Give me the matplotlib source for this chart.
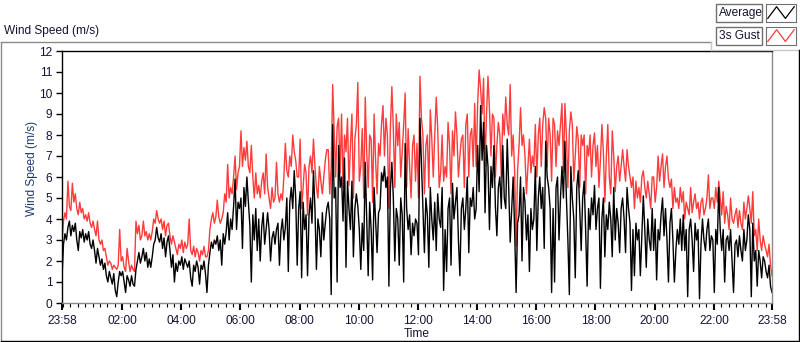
import numpy as np
import matplotlib.pyplot as plt
from matplotlib.patches import Rectangle
from matplotlib.lines import Line2D

# ----- data: 3-minute samples from 23:58 to 23:58 (one row per hour) -----
step_min = 3
avg_speed = [
    1.2, 2.8, 3.3, 3.0, 3.6, 3.9, 3.2, 3.7, 3.4, 3.8, 3.0, 2.5, 3.4, 3.1, 3.5, 2.9, 3.3, 3.0, 3.4, 2.8,
    2.6, 3.0, 2.5, 1.9, 2.6, 2.2, 1.8, 2.1, 1.6, 1.9, 1.3, 1.0, 1.5, 1.2, 0.9, 1.4, 0.6, 0.3, 1.0, 1.5,
    1.3, 1.5, 1.0, 0.5, 1.3, 1.1, 0.8, 1.3, 0.9, 0.8, 1.6, 2.0, 2.4, 1.9, 2.2, 2.6, 2.0, 2.4, 1.7, 2.1,
    1.7, 2.2, 2.8, 3.0, 3.6, 3.1, 2.9, 3.3, 2.6, 3.1, 2.2, 2.9, 3.2, 2.5, 1.7, 2.3, 1.0, 1.9, 1.5, 2.0,
    1.8, 2.2, 1.6, 2.1, 1.9, 1.7, 2.0, 1.2, 0.8, 1.8, 1.5, 2.0, 1.7, 0.9, 1.8, 1.6, 2.0, 1.4, 0.5, 1.8,
    2.4, 2.9, 2.6, 3.0, 2.8, 3.2, 2.5, 3.0, 1.8, 3.3, 2.8, 3.4, 4.3, 3.0, 4.0, 3.5, 4.6, 5.9, 3.5, 4.8,
    4.5, 5.0, 2.6, 5.5, 4.6, 6.0, 4.8, 3.7, 1.0, 4.2, 3.0, 4.5, 2.5, 4.0, 2.0, 3.6, 4.3, 2.8, 3.5, 4.3,
    3.5, 2.0, 3.1, 3.4, 2.8, 3.5, 3.8, 1.8, 3.4, 4.0, 3.0, 3.6, 5.0, 1.5, 4.8, 5.5, 4.5, 6.3, 5.0, 1.8,
    4.5, 5.3, 1.2, 4.8, 3.5, 4.2, 1.3, 4.2, 5.0, 3.8, 6.3, 4.5, 1.6, 4.0, 3.5, 2.2, 4.3, 3.0, 3.8, 4.5,
    4.8, 4.0, 0.4, 8.5, 5.0, 5.5, 1.0, 7.5, 5.5, 6.0, 3.9, 6.9, 1.7, 5.8, 4.5, 3.5, 5.8, 2.2, 4.5, 5.2,
    4.6, 3.5, 1.6, 3.8, 2.5, 6.7, 4.0, 1.3, 4.8, 3.5, 1.1, 5.5, 4.0, 2.4, 4.3, 4.5, 6.2, 5.8, 6.5, 5.5,
    6.0, 0.8, 5.4, 6.7, 5.0, 2.0, 4.5, 4.0, 1.8, 5.0, 4.2, 1.0, 7.6, 4.5, 3.5, 4.2, 2.3, 3.8, 3.2, 4.0,
    3.8, 2.3, 8.8, 6.7, 4.5, 2.4, 5.0, 4.2, 1.7, 5.5, 4.0, 3.0, 4.8, 2.5, 5.2, 4.0, 3.6, 5.5, 0.6, 3.5,
    1.5, 4.5, 5.0, 1.8, 5.7, 4.0, 4.8, 5.5, 3.0, 1.3, 4.5, 5.0, 3.5, 4.5, 6.0, 2.4, 5.0, 4.6, 5.5, 4.0,
    4.5, 7.5, 5.3, 9.4, 6.8, 8.6, 4.3, 7.5, 6.5, 3.5, 6.5, 5.5, 7.5, 4.6, 3.2, 5.5, 6.0, 4.5, 7.5, 5.0,
    4.5, 7.8, 5.5, 2.9, 4.5, 6.0, 3.5, 0.5, 3.8, 4.2, 6.0, 2.0, 5.5, 4.8, 3.0, 4.2, 1.5, 4.5, 3.5, 4.0,
    6.5, 2.5, 5.0, 6.0, 4.5, 5.5, 2.6, 7.7, 6.0, 5.5, 4.5, 0.5, 4.5, 1.0, 5.5, 6.0, 3.0, 5.0, 6.5, 5.0,
    7.7, 5.0, 3.0, 0.4, 6.5, 5.0, 4.0, 1.2, 5.5, 6.3, 4.5, 2.5, 5.0, 5.8, 3.5, 0.8, 4.5, 3.5, 5.0, 4.2,
    5.6, 3.5, 4.5, 5.0, 0.7, 4.0, 5.0, 2.2, 4.2, 3.5, 4.8, 4.0, 2.2, 5.5, 3.0, 4.5, 3.8, 2.4, 4.5, 5.0,
    4.0, 2.4, 5.5, 4.5, 3.8, 0.6, 3.5, 1.3, 3.8, 3.0, 3.5, 1.3, 3.2, 5.1, 3.5, 1.7, 4.0, 3.0, 2.5, 4.5,
    2.5, 4.0, 1.1, 3.5, 3.0, 4.2, 5.0, 3.2, 4.5, 3.0, 1.0, 3.8, 4.5, 3.0, 1.0, 2.5, 3.5, 2.8, 4.0, 2.5,
    4.2, 2.5, 3.5, 0.3, 3.5, 4.0, 3.0, 1.5, 3.8, 3.0, 3.5, 0.2, 2.8, 4.0, 3.0, 2.5, 3.5, 4.0, 2.5, 3.2,
    3.0, 0.5, 3.5, 2.8, 5.5, 3.5, 2.5, 3.5, 1.0, 3.0, 3.2, 2.5, 3.5, 2.0, 0.5, 2.8, 3.0, 2.2, 3.2, 2.5,
    2.0, 3.5, 2.5, 3.0, 4.2, 3.5, 0.3, 3.8, 2.0, 2.5, 0.8, 2.5, 2.0, 1.2, 2.2, 2.0, 1.5, 1.2, 1.8, 0.8,
    0.5,
]
gust_speed = [
    2.9, 3.9, 4.3, 4.0, 5.8, 4.6, 4.4, 5.7, 4.8, 5.2, 4.5, 4.2, 4.8, 4.3, 4.5, 4.0, 4.2, 3.9, 4.3, 3.8,
    3.6, 3.9, 3.5, 3.2, 3.9, 3.0, 2.8, 3.0, 2.5, 2.6, 2.2, 1.8, 2.0, 1.9, 1.6, 1.8, 1.7, 1.6, 1.8, 3.5,
    2.0, 2.2, 1.7, 1.5, 2.6, 2.0, 1.5, 1.8, 1.6, 1.5, 3.9, 3.3, 3.7, 3.0, 3.2, 3.9, 3.2, 3.4, 3.0, 3.3,
    3.0, 3.4, 4.0, 3.8, 4.4, 4.0, 3.8, 4.0, 3.5, 3.9, 3.2, 3.7, 3.8, 3.2, 2.8, 3.2, 2.9, 2.6, 2.3, 2.8,
    2.6, 3.0, 2.4, 2.9, 2.6, 2.8, 4.0, 2.5, 2.3, 2.7, 2.2, 2.6, 2.4, 2.0, 2.5, 2.3, 2.7, 2.2, 2.2, 2.5,
    3.5, 4.0, 4.3, 3.8, 4.1, 4.9, 4.1, 3.8, 4.0, 4.3, 5.2, 4.8, 6.6, 5.0, 5.5, 5.2, 6.0, 7.0, 5.4, 6.2,
    6.5, 8.2, 6.5, 7.4, 6.8, 7.7, 6.5, 6.2, 7.5, 6.0, 5.0, 6.2, 5.2, 5.6, 5.0, 5.8, 6.2, 5.2, 7.1, 5.5,
    5.0, 4.5, 5.5, 4.8, 5.0, 6.7, 5.2, 4.8, 5.2, 4.9, 6.0, 7.6, 6.3, 6.0, 7.0, 6.5, 8.0, 7.2, 6.8, 6.0,
    6.0, 7.8, 4.5, 5.5, 6.6, 6.2, 4.2, 6.5, 7.0, 6.2, 7.8, 6.5, 5.5, 5.0, 6.5, 5.8, 5.2, 6.0, 6.8, 7.3,
    7.3, 5.2, 6.5, 10.4, 8.2, 6.0, 8.4, 8.8, 6.2, 9.0, 5.5, 8.0, 7.2, 8.8, 5.6, 7.5, 9.0, 5.0, 7.8, 8.5,
    10.5, 5.8, 6.5, 8.3, 5.0, 9.8, 7.2, 5.5, 8.0, 7.8, 4.8, 9.0, 6.8, 5.2, 7.6, 7.0, 8.5, 9.4, 7.0, 8.8,
    8.0, 4.5, 8.3, 10.3, 8.3, 5.5, 9.0, 7.5, 8.6, 6.0, 7.2, 8.5, 10.0, 5.5, 8.3, 6.5, 5.0, 7.5, 8.0, 5.8,
    7.6, 5.0, 10.8, 8.8, 8.0, 5.2, 7.5, 8.0, 5.5, 9.2, 7.8, 6.0, 8.0, 9.8, 8.3, 5.5, 6.2, 8.0, 5.8, 6.5,
    6.0, 8.6, 7.5, 5.2, 8.2, 7.0, 9.1, 8.0, 6.0, 7.0, 7.8, 8.0, 5.5, 8.5, 9.0, 6.0, 8.0, 8.3, 6.5, 9.5,
    6.5, 9.5, 11.1, 10.2, 9.0, 10.7, 6.5, 9.0, 10.8, 9.2, 7.0, 9.0, 8.8, 6.0, 7.5, 8.6, 8.0, 6.0, 9.0, 8.0,
    9.8, 8.5, 8.0, 10.4, 7.0, 8.0, 6.3, 2.7, 6.3, 7.5, 9.3, 7.5, 8.0, 7.0, 5.2, 6.5, 7.8, 6.2, 7.0, 6.5,
    8.5, 6.0, 8.0, 8.8, 6.5, 8.5, 9.3, 8.8, 6.5, 8.8, 8.0, 5.8, 8.8, 8.5, 6.5, 8.2, 7.5, 8.5, 9.5, 6.2,
    9.5, 8.0, 5.5, 8.2, 9.1, 8.5, 5.8, 7.0, 8.4, 7.8, 5.5, 8.0, 7.5, 8.0, 5.2, 7.5, 7.0, 8.0, 6.0, 7.5,
    8.1, 6.5, 7.5, 5.5, 6.8, 8.5, 7.2, 4.8, 7.0, 8.5, 6.0, 5.2, 8.2, 7.0, 5.3, 6.5, 7.0, 5.8, 6.5, 7.3,
    6.5, 5.8, 7.3, 6.5, 6.0, 5.5, 6.0, 4.5, 5.8, 5.0, 5.5, 4.8, 6.0, 6.3, 5.5, 5.0, 5.8, 5.2, 4.5, 6.0,
    6.0, 4.8, 5.5, 7.0, 5.8, 6.5, 7.1, 5.5, 6.5, 7.0, 5.9, 5.5, 5.9, 4.5, 5.5, 4.8, 5.0, 4.5, 5.5, 4.8,
    5.3, 4.0, 4.8, 4.5, 4.2, 5.5, 4.3, 4.8, 5.2, 4.5, 4.8, 4.0, 4.8, 5.0, 4.2, 4.5, 5.0, 6.1, 4.5, 5.0,
    5.0, 4.5, 5.5, 4.8, 5.8, 5.0, 4.2, 5.3, 3.8, 4.6, 4.2, 3.5, 5.0, 4.0, 3.8, 4.2, 4.5, 3.6, 4.4, 3.8,
    3.5, 4.8, 4.0, 4.5, 5.1, 4.5, 3.8, 5.3, 3.2, 3.5, 2.5, 4.0, 3.0, 2.5, 3.2, 2.8, 2.5, 2.2, 2.8, 1.8,
    1.3,
]
tick_minutes = [0, 122, 242, 362, 482, 602, 722, 842, 962, 1082, 1202, 1322, 1440]
tick_labels = ['23:58', '02:00', '04:00', '06:00', '08:00', '10:00', '12:00',
               '14:00', '16:00', '18:00', '20:00', '22:00', '23:58']
series_names = ['Average', '3s Gust']

t = np.arange(len(avg_speed)) * step_min

W, H = 800, 342
plt.rcParams['font.family'] = ['Liberation Sans', 'DejaVu Sans']
fs = 8.6
txt = '#141432'

fig = plt.figure(figsize=(W/100, H/100), dpi=100)
def fx(x): return x / W
def fy(y): return 1 - y / H

# outer frame (sunken look)
gray = '#8a8a8a'
fig.add_artist(Line2D([fx(1), fx(711)], [fy(42), fy(42)], color=gray, lw=1))
fig.add_artist(Line2D([fx(711), fx(711)], [fy(42), fy(50)], color='#c8c8c8', lw=1))
fig.add_artist(Line2D([fx(711), fx(799)], [fy(50), fy(50)], color='#c8c8c8', lw=1))
fig.add_artist(Line2D([fx(1), fx(1)], [fy(42), fy(341)], color=gray, lw=1))
fig.add_artist(Line2D([fx(1), fx(799)], [fy(341), fy(341)], color='black', lw=1))
fig.add_artist(Line2D([fx(799), fx(799)], [fy(50), fy(341)], color='black', lw=1))

ax = fig.add_axes([fx(62), fy(303), fx(772) - fx(62), fy(51) - fy(303)])
ax.plot(t, gust_speed, color='#ff3b3b', lw=1.0)
ax.plot(t, avg_speed, color='black', lw=1.0)
ax.set_xlim(0, 1440)
ax.set_ylim(0, 12)
ax.set_yticks(range(0, 13))
ax.set_xticks(tick_minutes)
ax.set_xticklabels(tick_labels)
ax.set_xticks(np.arange(2, 1440, 15), minor=True)
ax.tick_params(axis='both', labelsize=fs, labelcolor=txt, color='black')
ax.tick_params(axis='y', length=4, width=1, pad=3)
ax.tick_params(axis='x', which='major', length=5, width=1.5, pad=4)
ax.tick_params(axis='x', which='minor', length=3, width=0.8)
for s in ['top', 'left']:
    ax.spines[s].set_color('black')
for s in ['bottom', 'right']:
    ax.spines[s].set_color(gray)
for s in ax.spines.values():
    s.set_linewidth(1)

fig.text(fx(4), fy(31), 'Wind Speed (m/s)', fontsize=fs, color=txt, va='center', ha='left')
fig.text(fx(417), fy(334), 'Time', fontsize=fs, color=txt, va='center', ha='center')
fig.text(fx(32), fy(168), 'Wind Speed (m/s)', fontsize=fs, color='#1f3a70',
         rotation=90, va='center', ha='center')

# legend: name box + line sample box per series
colors = ['black', '#ff3b3b']
for i, (name, c) in enumerate(zip(series_names, colors)):
    y0 = 4 + i * 23
    fig.add_artist(Rectangle((fx(716), fy(y0 + 18)), fx(46), fy(0) - fy(18),
                             facecolor='white', edgecolor='#707070', lw=1))
    fig.text(fx(719), fy(y0 + 9), name, fontsize=fs, color=txt, va='center', ha='left')
    iax = fig.add_axes([fx(766), fy(y0 + 18), fx(30), fy(0) - fy(18)])
    iax.set_facecolor('white')
    iax.plot([0, 1, 2, 3], [0.2, 0.85, 0.2, 0.85], color=c, lw=0.9)
    iax.set_xlim(-0.2, 3.2)
    iax.set_ylim(0, 1)
    iax.set_xticks([]); iax.set_yticks([])
    for s in iax.spines.values():
        s.set_color('#707070')

fig.savefig('out.png', dpi=100)
